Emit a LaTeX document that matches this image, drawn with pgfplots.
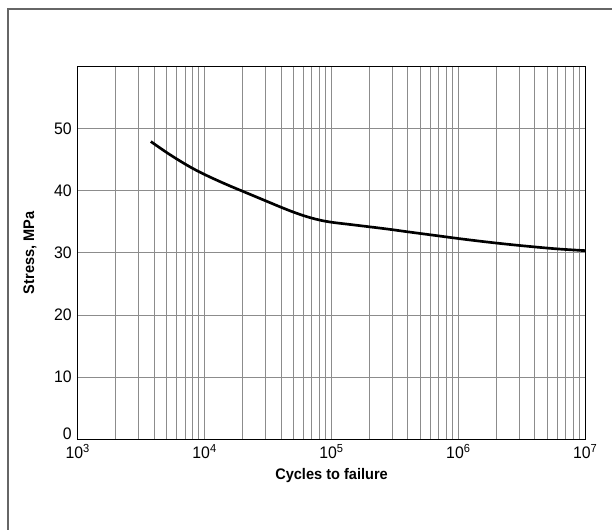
\documentclass[border=0pt]{standalone}
\usepackage{pgfplots}
\pgfplotsset{compat=1.18}
\usepackage{fontspec}
\setmainfont{Liberation Sans}[FakeStretch=0.95]
\begin{document}
\begin{tikzpicture}
\useasboundingbox (0,0) rectangle (459pt,397.5pt);
\draw[black!60, line width=1.1pt] (6pt,0) -- (6pt,390.9pt) -- (459pt,390.9pt);
\begin{axis}[
  at={(58.3pt,68.0pt)}, anchor=south west,
  scale only axis,
  width=380.7pt, height=279.75pt,
  xmode=log,
  xmin=1e3, xmax=1e7,
  ymin=0, ymax=60,
  xtick={1e3,1e4,1e5,1e6,1e7},
  xticklabels={10\textsuperscript{3},10\textsuperscript{4},10\textsuperscript{5},10\textsuperscript{6},10\textsuperscript{7}},
  ytick={0,10,20,30,40,50},
  yticklabels={\smash{0},10,20,30,40,50},
  major tick length=0pt, minor tick length=0pt,
  xmajorgrids, xminorgrids, ymajorgrids,
  major grid style={black!45, line width=0.7pt},
  minor grid style={black!45, line width=0.7pt},
  axis line style={black, line width=0.9pt},
  tick label style={font=\fontsize{12.5}{14}\selectfont, black},
  xticklabel style={yshift=-0.5pt},
  yticklabel style={xshift=-1pt},
  label style={font=\fontsize{11.5}{13}\selectfont\bfseries},
  xlabel={Cycles to failure},
  ylabel={Stress, MPa},
  xlabel style={at={(axis description cs:0.5,-0.0965)}, anchor=center},
  ylabel style={at={(axis description cs:-0.094,0.5)}, anchor=center},
]
\addplot[black, line width=2pt, smooth, tension=0.6, no markers] coordinates {
  (3767,47.9) (5012,46.15) (6310,44.85) (7943,43.65) (10000,42.6)
  (12589,41.65) (15849,40.75) (19953,39.9) (25119,39.05) (31623,38.2)
  (39811,37.35) (50119,36.55) (63096,35.85) (79433,35.3) (100000,34.92)
  (141254,34.55) (199526,34.18) (281838,33.8) (398107,33.38) (630957,32.84)
  (1000000,32.3) (1584893,31.8) (2511886,31.35) (3981072,30.95)
  (6309573,30.6) (10000000,30.35)
};
\end{axis}
\end{tikzpicture}
\end{document}
